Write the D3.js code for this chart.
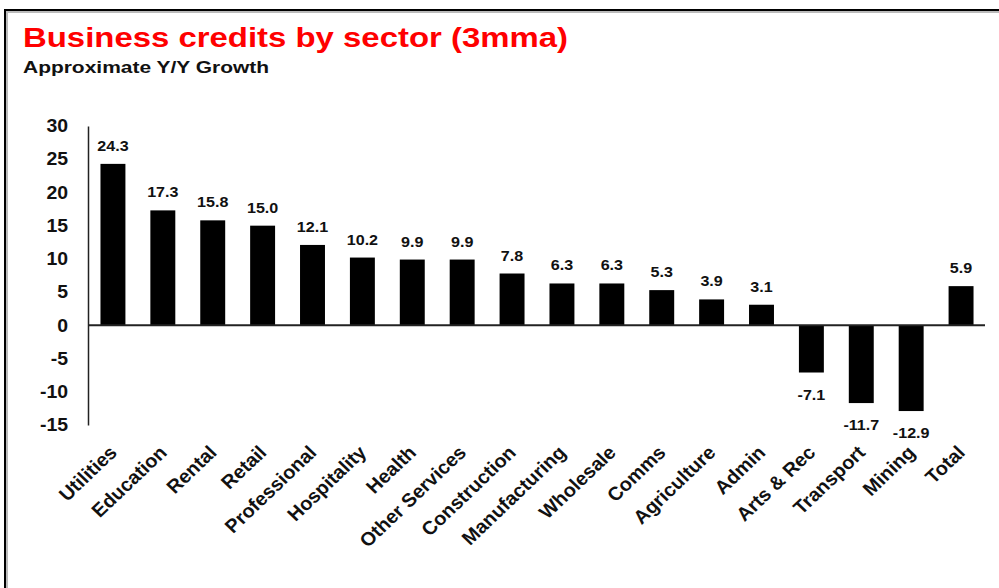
<!DOCTYPE html>
<html>
<head>
<meta charset="utf-8">
<script src="https://cdn.jsdelivr.net/npm/d3@7/dist/d3.min.js"></script>
<style>
  html, body { margin: 0; padding: 0; background: #fff; }
  svg { display: block; }
  text { font-family: "Liberation Sans", Arial, Helvetica, sans-serif; font-weight: bold; }
</style>
</head>
<body>
<svg id="chart" width="999" height="588"></svg>
<script>
// Sector names, in the order they are plotted
const sectors = ["Utilities", "Education", "Rental", "Retail", "Professional", "Hospitality",
  "Health", "Other Services", "Construction", "Manufacturing", "Wholesale", "Comms",
  "Agriculture", "Admin", "Arts & Rec", "Transport", "Mining", "Total"];
// Y/Y growth of business credits, 3-month moving average (%)
const growth = [24.3, 17.3, 15.8, 15.0, 12.1, 10.2, 9.9, 9.9, 7.8, 6.3, 6.3, 5.3, 3.9, 3.1,
  -7.1, -11.7, -12.9, 5.9];
const yTicks = [30, 25, 20, 15, 10, 5, 0, -5, -10, -15];
const titleText = "Business credits by sector (3mma)";
const subtitleText = "Approximate Y/Y Growth";

const svg = d3.select("#chart");
const stretch = 1.15; // value labels are drawn slightly wide

// Frame: black rule on top and left with a soft grey shadow
svg.append("line").attr("x1", 5).attr("x2", 999).attr("y1", 12).attr("y2", 12)
  .attr("stroke", "#bbb").attr("stroke-width", 2);
svg.append("line").attr("x1", 7).attr("x2", 7).attr("y1", 10).attr("y2", 588)
  .attr("stroke", "#bbb").attr("stroke-width", 2);
svg.append("line").attr("x1", 4).attr("x2", 999).attr("y1", 10).attr("y2", 10)
  .attr("stroke", "#000").attr("stroke-width", 2);
svg.append("line").attr("x1", 5).attr("x2", 5).attr("y1", 9).attr("y2", 588)
  .attr("stroke", "#000").attr("stroke-width", 2);

// Titles
svg.append("text").attr("x", 23).attr("y", 47)
  .attr("font-size", 28).attr("fill", "#ff0000")
  .attr("textLength", 545).attr("lengthAdjust", "spacingAndGlyphs")
  .text(titleText);
svg.append("text").attr("x", 23).attr("y", 73)
  .attr("font-size", 17).attr("fill", "#111")
  .attr("textLength", 246).attr("lengthAdjust", "spacingAndGlyphs")
  .text(subtitleText);

// Scales
const x = d3.scaleBand().domain(sectors).range([88, 986]).paddingInner(0.5).paddingOuter(0.25);
const y = d3.scaleLinear().domain([-15, 30]).range([425, 126]);

// Y axis: line and tick labels only (plain hyphen for negatives)
const yAxis = d3.axisLeft(y).tickValues(yTicks).tickSize(0).tickPadding(20).tickFormat(d => String(d));
const gy = svg.append("g").attr("transform", "translate(88,0)").call(yAxis);
gy.select(".domain").attr("stroke", "#222").attr("stroke-width", 1.5);
gy.selectAll(".tick text")
  .attr("font-size", 18).attr("fill", "#111")
  .attr("font-family", "Liberation Sans, Arial, sans-serif").attr("font-weight", "bold")
  .each(function () {
    const t = d3.select(this);
    const px = +t.attr("x");
    t.attr("x", null).attr("transform", `translate(${px},0) scale(1.08,1)`);
  });

// Bars
const data = sectors.map((s, i) => ({ s, v: growth[i] }));
svg.append("g").selectAll("rect").data(data).join("rect")
  .attr("x", d => x(d.s))
  .attr("width", x.bandwidth())
  .attr("y", d => y(Math.max(0, d.v)))
  .attr("height", d => Math.abs(y(d.v) - y(0)))
  .attr("fill", "#000");

// Zero line
svg.append("line").attr("x1", 88).attr("x2", 985).attr("y1", y(0)).attr("y2", y(0))
  .attr("stroke", "#222").attr("stroke-width", 2);

// Value labels
svg.append("g").selectAll("text").data(data).join("text")
  .attr("transform", d => {
    const cx = x(d.s) + x.bandwidth() / 2;
    const ty = d.v >= 0 ? y(d.v) - 13 : y(d.v) + 27;
    return `translate(${cx},${ty}) scale(${stretch},1)`;
  })
  .attr("text-anchor", "middle")
  .attr("font-size", 14).attr("fill", "#111")
  .text(d => d.v.toFixed(1));

// Category labels, rotated 45 degrees, ending at each bar centre
svg.append("g").selectAll("text").data(sectors).join("text")
  .attr("transform", d => {
    const cx = x(d) + x.bandwidth() / 2;
    return `translate(${cx - 5},${444}) scale(1.05,1) rotate(-45)`;
  })
  .attr("text-anchor", "end")
  .attr("dy", "0.72em")
  .attr("font-size", 19).attr("fill", "#111")
  .text(d => d);
</script>
</body>
</html>
